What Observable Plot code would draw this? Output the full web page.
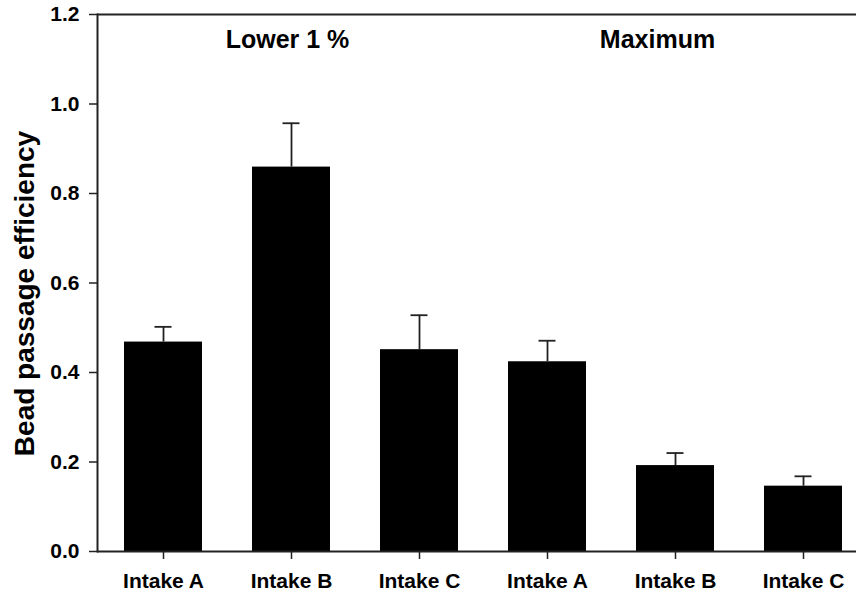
<!DOCTYPE html>
<html><head><meta charset="utf-8">
<script src="https://cdn.jsdelivr.net/npm/d3@7"></script>
<script src="https://cdn.jsdelivr.net/npm/@observablehq/plot@0.6"></script>
<style>
body{margin:0;background:#fff}
svg{font-family:"Liberation Sans",Arial,Helvetica,sans-serif}
</style>
</head><body><div id="chart"></div>
<script>
const groups = ["Lower 1 %","Lower 1 %","Lower 1 %","Maximum","Maximum","Maximum"];
const intakes = ["Intake A","Intake B","Intake C","Intake A","Intake B","Intake C"];
const means = [0.468,0.859,0.451,0.424,0.192,0.146];
const errors = [0.034,0.098,0.077,0.047,0.028,0.022];
const yTicks = [0,0.2,0.4,0.6,0.8,1.0,1.2];
const groupLabels = ["Lower 1 %","Maximum"];
const groupAnchor = ["1","4"];
const groupShift = [-4,-18];
const yTitle = "Bead passage efficiency";

const data = means.map((m,i)=>({key:String(i), group:groups[i], intake:intakes[i], mean:m, top:m+errors[i]}));
const keys = data.map(d=>d.key);
const ink = "#222";

const groupMarks = groupLabels.map((g,i)=>Plot.text([g], {x:()=>groupAnchor[i], y:1.142, dx:groupShift[i], text:d=>d,
  fontSize:25, fontWeight:"bold", fill:"#000", textAnchor:"middle"}));

const chart = Plot.plot({
  width: 856, height: 594,
  marginLeft: 97, marginRight: 0, marginTop: 14, marginBottom: 43,
  style: {fontFamily: '"Liberation Sans",Arial,sans-serif', background: "#fff"},
  x: {domain: keys, range: [97.8, 868.2], paddingInner: 0.39, paddingOuter: 0.195, align: 0.5},
  y: {domain: [0, 1.2], range: [551, 14]},
  marks: [
    Plot.barY(data, {x:"key", y:"mean", fill:"#000"}),
    Plot.ruleX(data, {x:"key", y1:"mean", y2:"top", stroke:ink, strokeWidth:1.8}),
    Plot.tickY(data, {x:"key", y:"top", stroke:ink, strokeWidth:1.8, insetLeft:30.5, insetRight:30.5}),
    Plot.ruleY([0], {stroke:ink, strokeWidth:2}),
    Plot.ruleY([1.2], {stroke:ink, strokeWidth:2}),
    Plot.frame({anchor:"left", stroke:ink, strokeWidth:2}),
    Plot.axisY({ticks:yTicks, tickFormat:d3.format(".1f"), tickSize:8, tickPadding:10,
      fontSize:21, fontWeight:"bold", stroke:ink, strokeWidth:1.5, fill:"#000", label:null}),
    Plot.axisX({tickFormat:(k)=>intakes[+k], tickSize:8, tickPadding:14,
      fontSize:21, fontWeight:"bold", stroke:ink, strokeWidth:1.5, fill:"#000", label:null}),
    ...groupMarks,
    Plot.text([yTitle], {frameAnchor:"left", dx:-72, dy:10.5, rotate:-90, text:d=>d, textAnchor:"middle",
      fontSize:28, fontWeight:"bold", fill:"#000"})
  ]
});
document.getElementById("chart").appendChild(chart);
</script>
</body></html>
